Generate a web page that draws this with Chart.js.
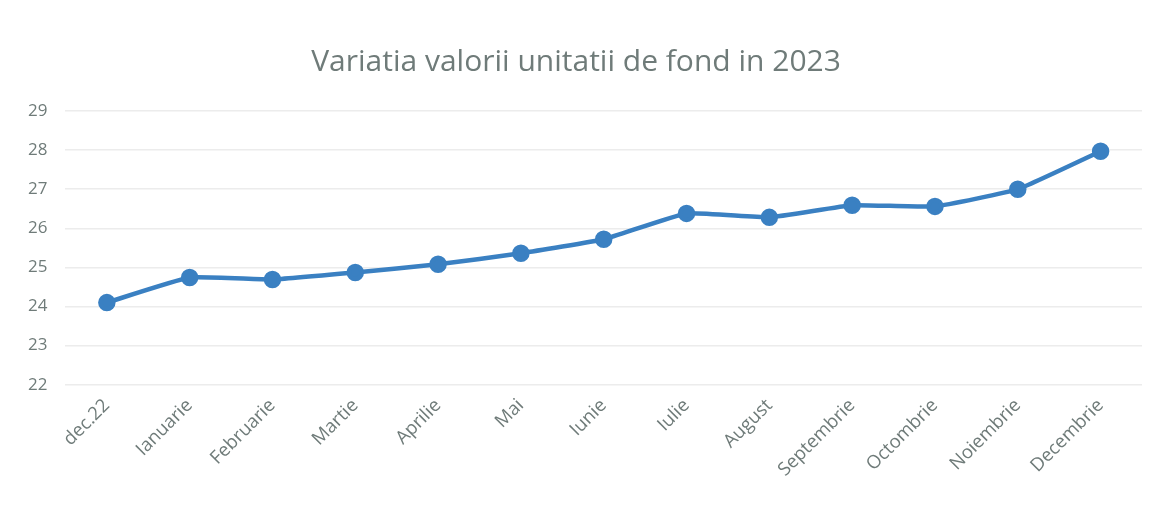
<!DOCTYPE html>
<html><head><meta charset="utf-8">
<script src="https://cdn.jsdelivr.net/npm/chart.js@4/dist/chart.umd.min.js"></script>
<style>html,body{margin:0;padding:0;background:#fff}#w{width:1156px;height:510px}</style>
</head><body><div id="w"><canvas id="c" width="1156" height="510"></canvas></div>
<script>
const categories = ["dec.22","Ianuarie","Februarie","Martie","Aprilie","Mai","Iunie","Iulie","August","Septembrie","Octombrie","Noiembrie","Decembrie"];
const values = [24.1,24.74,24.69,24.87,25.08,25.36,25.72,26.38,26.28,26.59,26.56,27.0,27.97];
const yMin = 22, yMax = 29;
const titleText = "Variatia valorii unitatii de fond in 2023";
const gray = "#6f7b79";
new Chart(document.getElementById("c"), {
  type: "line",
  data: { labels: categories, datasets: [{ data: values, borderColor: "#3a80c2", backgroundColor: "#3a80c2", borderWidth: 4.5, pointRadius: 6.5, pointHoverRadius: 6.5, tension: 0.12, fill: false }] },
  options: {
    responsive: false, animation: false,
    layout: { padding: { left: 10, right: 14, top: 44, bottom: 27 } },
    plugins: { legend: { display: false }, tooltip: { enabled: false },
      title: { display: true, text: titleText, color: gray, font: { family: "Open Sans", size: 30, weight: "normal" }, padding: { top: 0, bottom: 31 } } },
    scales: {
      x: { offset: true, grid: { display: false }, border: { display: false },
        ticks: { color: gray, font: { family: "Open Sans", size: 18.5 }, maxRotation: 45, minRotation: 45, padding: 2 } },
      y: { min: yMin, max: yMax, grid: { color: "#ececec", lineWidth: 1.5, drawTicks: false }, border: { display: false },
        ticks: { stepSize: 1, color: gray, font: { family: "Open Sans", size: 17 }, padding: 18 } }
    }
  }
});
</script></body></html>
